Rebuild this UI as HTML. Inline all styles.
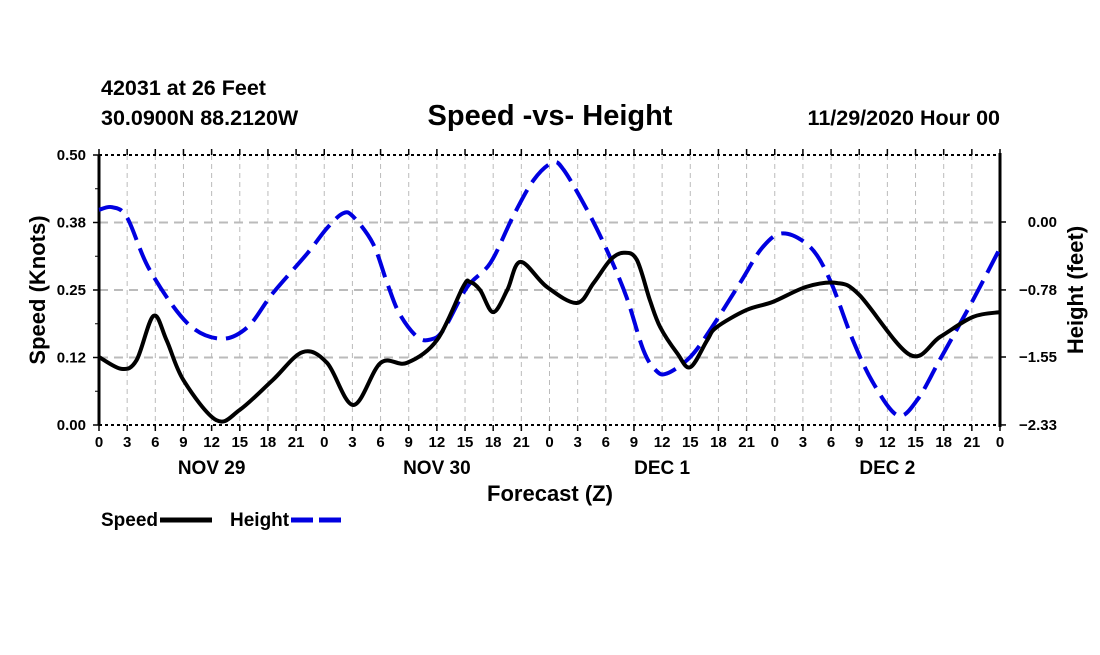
<!DOCTYPE html>
<html><head><meta charset="utf-8"><style>
body{margin:0;background:#fff;width:1100px;height:650px;overflow:hidden}
svg{font-family:"Liberation Sans",Arial,sans-serif;font-weight:bold}
</style></head><body>
<svg id="chart" width="1100" height="650" viewBox="0 0 1100 650" xmlns="http://www.w3.org/2000/svg">
<text x="101" y="95" font-size="21.5">42031 at 26 Feet</text>
<text x="101" y="125" font-size="21.5">30.0900N 88.2120W</text>
<text x="550" y="125" font-size="29" text-anchor="middle">Speed -vs- Height</text>
<text x="1000" y="125" font-size="21.5" text-anchor="end">11/29/2020 Hour 00</text>
<g id="grid"></g><g id="axes"></g><g id="series"></g>
<text transform="translate(45,290) rotate(-90)" font-size="22" text-anchor="middle">Speed (Knots)</text>
<text transform="translate(1083,290) rotate(-90)" font-size="22" text-anchor="middle">Height (feet)</text>
<text x="550" y="501" font-size="22" text-anchor="middle">Forecast (Z)</text>
<g>
<text x="101" y="526" font-size="19">Speed</text>
<line x1="160" y1="520" x2="212" y2="520" stroke="#000" stroke-width="5"/>
<text x="230" y="526" font-size="19">Height</text>
<line x1="291" y1="520" x2="343" y2="520" stroke="#0000e0" stroke-width="5" stroke-dasharray="22,6"/>
</g>
</svg>
<script>
const speedHours=[0,2.4,4,5.8,7.2,9,12.5,15,18.5,21.7,24.3,27.1,30,32.8,36,38.8,39.5,40.6,42,43.5,44.9,47.7,50.9,52.7,54.5,55.9,57.3,58.7,59.8,61.6,63,64.8,65.8,69,71.8,75.4,78.6,81,86.4,89.6,93.1,96];
const speedValues=[0.126,0.104,0.120,0.202,0.157,0.083,0.009,0.028,0.083,0.135,0.115,0.037,0.115,0.115,0.157,0.256,0.265,0.250,0.209,0.250,0.302,0.256,0.226,0.263,0.306,0.319,0.306,0.231,0.181,0.133,0.107,0.157,0.181,0.213,0.228,0.256,0.263,0.241,0.130,0.163,0.200,0.209];
const heightHours=[0,1.4,3,5.4,9.4,12.9,15.8,18.5,22.2,24.3,26,27.1,29.2,30.7,32,33.9,35.3,36.7,39.2,41.7,44.1,46.3,48.3,49.5,52,54.1,56.2,58,59.3,60.5,63,65.3,68.3,70.7,72.9,75.8,77.9,80.3,82.5,85.1,87.2,89.6,93.1,96];
const heightValues=[0.14,0.17,0.05,-0.55,-1.16,-1.34,-1.21,-0.82,-0.36,-0.07,0.10,0.06,-0.25,-0.70,-1.05,-1.32,-1.35,-1.24,-0.75,-0.47,0.06,0.48,0.68,0.60,0.14,-0.32,-0.86,-1.47,-1.70,-1.74,-1.55,-1.21,-0.70,-0.29,-0.13,-0.29,-0.67,-1.35,-1.85,-2.22,-2.04,-1.58,-0.90,-0.30];
const leftTicks=[0,0.125,0.25,0.375,0.5];
const leftTickLabels=["0.00","0.12","0.25","0.38","0.50"];
const rightTicks=[-2.33,-1.55,-0.78,0.00];
const rightTickLabels=["\u22122.33","\u22121.55","\u22120.78","0.00"];
const hourLabels=["0","3","6","9","12","15","18","21"];
const dayLabels=["NOV 29","NOV 30","DEC 1","DEC 2"];

const X0=99,X1=1000,Y0=425,Y1=155;
const xs=h=>X0+(X1-X0)*h/96;
const ys=v=>Y0-(Y0-Y1)*v/0.5;
const yh=v=>222-87.1*v;
const NS="http://www.w3.org/2000/svg";
function mk(tag,attrs,parent,text){const e=document.createElementNS(NS,tag);for(const k in attrs)e.setAttribute(k,attrs[k]);if(text!==undefined)e.textContent=text;parent.appendChild(e);return e;}
const grid=document.getElementById('grid'),axes=document.getElementById('axes'),series=document.getElementById('series');
for(let h=3;h<96;h+=3){const l=mk('line',{x1:xs(h),x2:xs(h),y1:Y1,y2:Y0,stroke:'#bbb','stroke-width':1,'stroke-dasharray':'5,4'},grid);

}
leftTicks.slice(1,4).forEach(v=>{const l=mk('line',{x1:X0,x2:X1,y1:ys(v),y2:ys(v),stroke:'#bbb','stroke-width':2,'stroke-dasharray':'9,6'},grid);

});
[Y1,Y0].forEach(y=>{const l=mk('line',{x1:X0,x2:X1,y1:y,y2:y,stroke:'#000','stroke-width':2,'stroke-dasharray':'3,3'},axes);

});
const la=mk('line',{x1:X0,x2:X0,y1:Y1,y2:Y0,stroke:'#000','stroke-width':3},axes);


const ra=mk('line',{x1:X1,x2:X1,y1:Y1-2,y2:Y0+2,stroke:'#000','stroke-width':3},axes);


leftTicks.forEach((v,i)=>{mk('line',{x1:X0-6,x2:X0,y1:ys(v),y2:ys(v),stroke:'#000','stroke-width':1.5},axes);
const t=mk('text',{x:X0-13,y:ys(v)+5,'font-size':15,'text-anchor':'end'},axes,leftTickLabels[i]);

});
[0.0625,0.1875,0.3125,0.4375].forEach(v=>mk('line',{x1:X0-4,x2:X0,y1:ys(v),y2:ys(v),stroke:'#000','stroke-width':1},axes));
rightTicks.forEach((v,i)=>{mk('line',{x1:X1,x2:X1+6,y1:yh(v),y2:yh(v),stroke:'#000','stroke-width':1.5},axes);
const t=mk('text',{x:1057,y:yh(v)+5,'font-size':15,'text-anchor':'end'},axes,rightTickLabels[i]);

});
for(let h=0;h<=96;h+=3){const x=xs(h);
mk('line',{x1:x,x2:x,y1:Y0,y2:Y0+6,stroke:'#000','stroke-width':1.5},axes);
mk('line',{x1:x,x2:x,y1:Y1-6,y2:Y1,stroke:'#000','stroke-width':1.5},axes);
const t=mk('text',{x:x,y:Y0+22,'font-size':15,'text-anchor':'middle'},axes,hourLabels[(h/3)%8]);

}
dayLabels.forEach((d,i)=>{const t=mk('text',{x:xs(i*24+12),y:Y0+49,'font-size':19,'text-anchor':'middle'},axes,d);

});
function smooth(pts){let d=`M${pts[0][0]},${pts[0][1]}`;for(let i=0;i<pts.length-1;i++){const p0=pts[Math.max(0,i-1)],p1=pts[i],p2=pts[i+1],p3=pts[Math.min(pts.length-1,i+2)];
d+=` C${p1[0]+(p2[0]-p0[0])/6},${p1[1]+(p2[1]-p0[1])/6} ${p2[0]-(p3[0]-p1[0])/6},${p2[1]-(p3[1]-p1[1])/6} ${p2[0]},${p2[1]}`;}return d;}
const hp=mk('path',{d:smooth(heightHours.map((h,i)=>[xs(h),yh(heightValues[i])])),fill:'none',stroke:'#0000e0','stroke-width':4,'stroke-dasharray':'24,9'},series);


const sp=mk('path',{d:smooth(speedHours.map((h,i)=>[xs(h),ys(speedValues[i])])),fill:'none',stroke:'#000','stroke-width':4,'stroke-linejoin':'round'},series);


</script>
</body></html>
